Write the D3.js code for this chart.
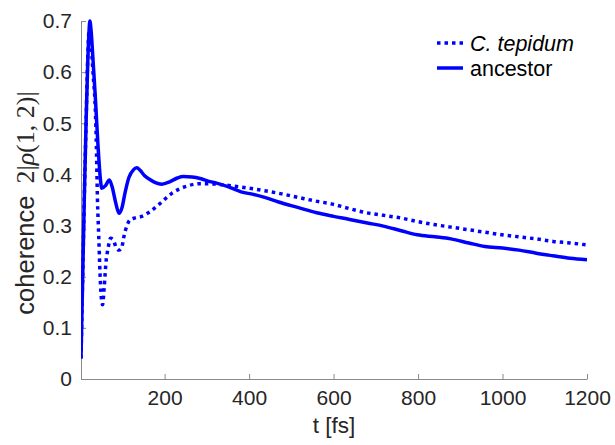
<!DOCTYPE html>
<html>
<head>
<meta charset="utf-8">
<script src="https://cdn.jsdelivr.net/npm/d3@7"></script>
<style>
  html, body { margin: 0; padding: 0; background: #fff; }
  svg { display: block; }
  text { font-family: "Liberation Sans", Arial, Helvetica, sans-serif; }
</style>
</head>
<body>
<svg id="chart" width="615" height="445"></svg>
<script>
// ---- data ----
const seriesNames = ["C. tepidum", "ancestor"];

const tTepidum = [2, 6, 10, 14, 18, 21, 24, 28, 32, 35, 38, 41, 44, 47, 50, 53, 57, 61, 66, 72, 78, 86, 92, 98, 104, 110, 118, 130, 146, 165, 189, 217, 252, 284, 323, 357, 400, 437, 477, 517, 557, 597, 638, 678, 718, 758, 798, 838, 878, 918, 958, 998, 1039, 1079, 1120, 1160, 1200];
const vTepidum = [0.04, 0.2, 0.36, 0.5, 0.63, 0.68, 0.67, 0.63, 0.58, 0.545, 0.47, 0.35, 0.28, 0.207, 0.16, 0.145, 0.18, 0.227, 0.255, 0.275, 0.272, 0.256, 0.252, 0.256, 0.28, 0.298, 0.311, 0.315, 0.318, 0.327, 0.343, 0.363, 0.377, 0.382, 0.381, 0.378, 0.373, 0.368, 0.362, 0.355, 0.348, 0.342, 0.333, 0.325, 0.32, 0.315, 0.308, 0.302, 0.297, 0.292, 0.287, 0.282, 0.278, 0.274, 0.269, 0.266, 0.262];

const tAncestor = [2, 6, 10, 14, 18, 21, 23, 26, 30, 36, 42, 48, 51, 60, 69, 76, 84, 92, 99, 106, 115, 126, 134, 142, 152, 165, 178, 193, 213, 230, 244, 265, 284, 303, 323, 350, 381, 410, 437, 470, 517, 560, 600, 638, 680, 718, 760, 798, 840, 878, 920, 958, 1000, 1039, 1080, 1119, 1160, 1200];
const vAncestor = [0.04, 0.2, 0.36, 0.5, 0.62, 0.68, 0.70, 0.68, 0.63, 0.55, 0.46, 0.39, 0.373, 0.378, 0.389, 0.375, 0.345, 0.324, 0.335, 0.363, 0.393, 0.409, 0.413, 0.408, 0.398, 0.39, 0.384, 0.381, 0.386, 0.393, 0.396, 0.395, 0.392, 0.387, 0.383, 0.376, 0.366, 0.361, 0.355, 0.346, 0.335, 0.325, 0.318, 0.312, 0.305, 0.299, 0.29, 0.282, 0.278, 0.274, 0.266, 0.259, 0.256, 0.252, 0.246, 0.241, 0.236, 0.233];

const xTicks = [200, 400, 600, 800, 1000, 1200];
const yTicks = [0, 0.1, 0.2, 0.3, 0.4, 0.5, 0.6, 0.7];
const xDomain = [2, 1200];
const yDomain = [0, 0.7];

// ---- layout ----
const svg = d3.select("#chart");
const mLeft = 81, mRight = 587, mTop = 21, mBottom = 379;
const blue = "#0000ff";
const axisColor = "#8a8a8a";
const textColor = "#262626";

const x = d3.scaleLinear().domain(xDomain).range([mLeft, mRight]);
const y = d3.scaleLinear().domain(yDomain).range([mBottom, mTop]);

svg.append("defs").append("clipPath").attr("id", "clip")
  .append("rect").attr("x", mLeft).attr("y", mTop - 4).attr("width", mRight - mLeft).attr("height", mBottom - mTop + 4);

// axes
const xAxis = d3.axisBottom(x).tickValues(xTicks).tickFormat(d3.format("d"))
  .tickSizeInner(-5).tickSizeOuter(0).tickPadding(11);
const yAxis = d3.axisLeft(y).tickValues(yTicks).tickFormat(d => d === 0 ? "0" : d3.format(".1f")(d))
  .tickSizeInner(-5).tickSizeOuter(0).tickPadding(9);

const gx = svg.append("g").attr("transform", `translate(0,${mBottom})`).call(xAxis);
const gy = svg.append("g").attr("transform", `translate(${mLeft},0)`).call(yAxis);
[gx, gy].forEach(g => {
  g.select(".domain").attr("stroke", axisColor).attr("stroke-width", 1);
  g.selectAll(".tick line").attr("stroke", axisColor).attr("stroke-width", 1);
  g.selectAll(".tick text").attr("fill", textColor).style("font-size", "21px")
    .style("font-family", "'Liberation Sans', Arial, sans-serif");
});

// lines
const line = d3.line().x(d => x(d[0])).y(d => y(d[1])).curve(d3.curveMonotoneX);
const plot = svg.append("g").attr("clip-path", "url(#clip)");

plot.append("path")
  .datum(tAncestor.map((t, i) => [t, vAncestor[i]]))
  .attr("d", line).attr("fill", "none").attr("stroke", blue)
  .attr("stroke-width", 3.5).attr("stroke-linejoin", "round");

plot.append("path")
  .datum(tTepidum.map((t, i) => [t, vTepidum[i]]))
  .attr("d", line).attr("fill", "none").attr("stroke", blue)
  .attr("stroke-width", 3.5).attr("stroke-dasharray", "3.5 4");

// axis labels
svg.append("text").attr("x", (mLeft + mRight) / 2).attr("y", 433)
  .attr("text-anchor", "middle").attr("fill", textColor)
  .style("font-size", "22.5px").text("t [fs]");

const mathFont = "'Liberation Serif', 'DejaVu Serif', serif";
const ylab = svg.append("text")
  .attr("transform", "translate(34,203) rotate(-90)")
  .attr("text-anchor", "middle").attr("fill", textColor)
  .style("font-size", "25.5px");
ylab.append("tspan").text("coherence");
ylab.append("tspan").attr("dx", 12)
  .style("font-family", mathFont).style("font-size", "26px")
  .text("2|");
ylab.append("tspan").style("font-family", mathFont)
  .style("font-size", "26px").style("font-style", "italic").text("ρ");
ylab.append("tspan").style("font-family", mathFont)
  .style("font-size", "26px").text("(1, 2)|");

// legend
const legend = svg.append("g");
const legRows = [
  { name: seriesNames[0], dash: "3.5 4", italic: true, y: 43 },
  { name: seriesNames[1], dash: null, italic: false, y: 68 }
];
legRows.forEach(r => {
  legend.append("line").attr("x1", 437).attr("x2", 463).attr("y1", r.y).attr("y2", r.y)
    .attr("stroke", blue).attr("stroke-width", 3.5)
    .attr("stroke-dasharray", r.dash);
  legend.append("text").attr("x", 470).attr("y", r.y + 7.5)
    .attr("fill", "#000").style("font-size", "21.5px")
    .style("font-style", r.italic ? "italic" : "normal").text(r.name);
});
</script>
</body>
</html>
